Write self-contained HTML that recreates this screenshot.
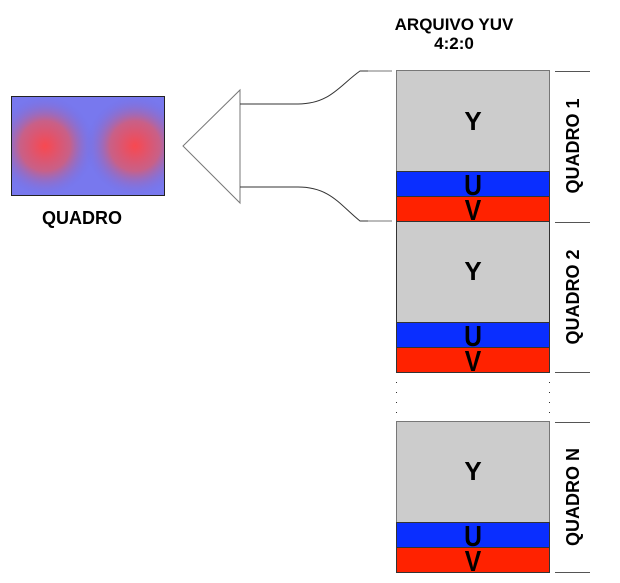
<!DOCTYPE html>
<html><head><meta charset="utf-8"><style>
html,body{margin:0;padding:0;background:#fff;width:620px;height:583px;overflow:hidden}
svg{display:block}
text{font-family:"Liberation Sans",Arial,sans-serif;font-weight:bold;fill:#000}
</style></head><body>
<svg width="620" height="583" viewBox="0 0 620 583" xmlns="http://www.w3.org/2000/svg">
<defs>
<radialGradient id="r1" cx="45" cy="146" r="50" gradientUnits="userSpaceOnUse">
<stop offset="0" stop-color="#f84850"/><stop offset="0.5" stop-color="#c86088"/><stop offset="1" stop-color="#7070e8" stop-opacity="0"/></radialGradient>
<radialGradient id="r2" cx="135" cy="146" r="50" gradientUnits="userSpaceOnUse">
<stop offset="0" stop-color="#f84850"/><stop offset="0.5" stop-color="#c86088"/><stop offset="1" stop-color="#7070e8" stop-opacity="0"/></radialGradient>
</defs>
<rect x="11" y="96" width="154" height="100" fill="#7878ee"/>
<rect x="11" y="96" width="154" height="100" fill="url(#r1)"/>
<rect x="11" y="96" width="154" height="100" fill="url(#r2)"/>
<rect x="11.5" y="96.5" width="153" height="99" fill="none" stroke="#222" stroke-width="1"/>
<text x="82" y="224" font-size="18" text-anchor="middle">QUADRO</text>
<polygon points="183,146 240,90 240,203" fill="#fff" stroke="#777" stroke-width="1"/>
<path d="M240,104 H298 C330,104 340,85 360,71 H392" fill="none" stroke="#333" stroke-width="1"/>
<path d="M240,187 H298 C330,187 340,205 360,221 H392" fill="none" stroke="#333" stroke-width="1"/>
<line x1="368" y1="71" x2="392" y2="71" stroke="#777"/>
<line x1="368" y1="221" x2="392" y2="221" stroke="#777"/>
<text x="454" y="30" font-size="17" text-anchor="middle">ARQUIVO YUV</text>
<text x="454" y="49" font-size="17" text-anchor="middle">4:2:0</text>
<g stroke="#333" stroke-width="1">
<rect x="396.5" y="70.5" width="153" height="101" fill="#cccccc" stroke="#777"/>
<rect x="396.5" y="171.5" width="153" height="25" fill="#0a2eff"/>
<rect x="396.5" y="196.5" width="153" height="25" fill="#ff2200"/>
<rect x="396.5" y="221.5" width="153" height="101" fill="#cccccc"/>
<rect x="396.5" y="322.5" width="153" height="25" fill="#0a2eff"/>
<rect x="396.5" y="347.5" width="153" height="25" fill="#ff2200"/>
<rect x="396.5" y="421.5" width="153" height="101" fill="#cccccc" stroke="#777"/>
<rect x="396.5" y="522.5" width="153" height="25" fill="#0a2eff"/>
<rect x="396.5" y="547.5" width="153" height="25" fill="#ff2200"/>
</g>
<line x1="396.5" y1="372" x2="396.5" y2="422" stroke="#333" stroke-dasharray="1,9"/>
<line x1="549.5" y1="372" x2="549.5" y2="422" stroke="#333" stroke-dasharray="1,9"/>
<g font-size="26" text-anchor="middle">
<text x="473" y="130">Y</text><text x="473" y="280">Y</text><text x="473" y="480">Y</text>
</g>
<g font-size="26" text-anchor="middle">
<text transform="translate(473,195) scale(0.95,1.1)">U</text><text transform="translate(473,220) scale(0.95,1.1)">V</text>
<text transform="translate(473,346) scale(0.95,1.1)">U</text><text transform="translate(473,371) scale(0.95,1.1)">V</text>
<text transform="translate(473,546) scale(0.95,1.1)">U</text><text transform="translate(473,571) scale(0.95,1.1)">V</text>
</g>
<g stroke="#555">
<line x1="555" y1="71.5" x2="590" y2="71.5"/>
<line x1="555" y1="222.5" x2="590" y2="222.5"/>
<line x1="555" y1="372.5" x2="590" y2="372.5"/>
<line x1="555" y1="422.5" x2="590" y2="422.5"/>
<line x1="555" y1="572.5" x2="590" y2="572.5"/>
</g>
<g font-size="18" text-anchor="middle">
<text transform="translate(579,146) rotate(-90)">QUADRO 1</text>
<text transform="translate(579,297) rotate(-90)">QUADRO 2</text>
<text transform="translate(579,497) rotate(-90)">QUADRO N</text>
</g>
</svg>
</body></html>
